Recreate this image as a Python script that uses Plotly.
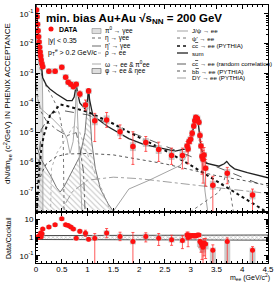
import plotly.graph_objects as go
from plotly.subplots import make_subplots

# ---------------- data ----------------
mass = [0.01, 0.02, 0.03, 0.04, 0.05, 0.06, 0.07, 0.08, 0.09, 0.10, 0.115, 0.13,
        0.25, 0.37, 0.50, 0.575, 0.625, 0.675, 0.725, 0.78, 0.85, 0.96, 1.02,
        1.14, 1.37, 1.63, 1.88, 2.13, 2.38, 2.63, 2.84,
        2.93, 2.95, 2.97, 3.00, 3.03, 3.06, 3.08, 3.10, 3.13, 3.16, 3.18, 3.20,
        3.22, 3.24, 3.26, 3.29, 3.43, 3.71, 4.20]
dndm_log10 = [-0.87, -1.10, -1.35, -1.57, -1.77, -1.95, -2.12, -2.28, -2.42, -2.55, -2.68, -2.78,
              -2.93, -2.93, -2.80, -3.13, -3.30, -3.37, -3.45, -3.37, -3.70, -4.07, -3.60,
              -4.60, -4.57, -4.97, -5.47, -5.33, -5.57, -5.77, -5.77,
              -5.45, -5.55, -5.30, -5.22, -5.02, -4.78, -4.60, -4.48, -4.52, -4.65, -5.10, -5.45,
              -5.80, -5.90, -5.75, -6.20, -6.77, -6.37, -7.10]
stat_up_dec = [0.02] * 12 + [0.05, 0.05, 0.04, 0.05, 0.05, 0.05, 0.06, 0.05, 0.1, 0.17, 0.08,
                             0.25, 0.25, 0.23, 0.5, 0.2, 0.25, 0.25, 0.25,
                             0.15, 0.3, 0.12, 0.12, 0.1, 0.08, 0.08, 0.06, 0.06, 0.08, 0.12, 0.15,
                             0.25, 0.3, 0.25, 0.3, 0.3, 0.2, 0.2]
stat_dn_dec = [0.02] * 12 + [0.05, 0.05, 0.04, 0.05, 0.05, 0.05, 0.06, 0.05, 0.1, 0.17, 0.08,
                             0.7, 0.25, 0.23, 0.6, 0.3, 0.4, 0.3, 0.45,
                             0.2, 0.5, 0.15, 0.15, 0.1, 0.08, 0.08, 0.06, 0.06, 0.08, 0.15, 0.3,
                             0.6, 0.8, 0.5, 0.6, 1.0, 0.35, 0.6]
syst_dec = [0.08] * 12 + [0.1] * 11 + [0.15] * 8 + [0.1] * 16 + [0.15, 0.15, 0.15]

ratio = [1.0, 1.0, 1.05, 1.1, 1.0, 1.15, 1.3, 1.2, 1.8, 1.1, 1.6, 2.9,
         3.8, 5.0, 10.5, 5.0, 4.5, 3.8, 2.9, 0.93, 2.2, 1.7, 0.8,
         0.93, 1.75, 1.15, 0.6, 1.15, 0.93, 0.75, 0.7,
         1.4, 1.0, 1.3, 1.2, 1.3, 1.2, 1.3, 1.2, 1.4, 1.4, 0.6, 0.5,
         0.4, 0.3, 0.5, 0.45, 0.2, 0.6, 0.2]
ratio_dn_dec = [0.02] * 12 + [0.05, 0.05, 0.04, 0.05, 0.05, 0.05, 0.06, 0.05, 0.1, 0.17, 0.08,
                              1.6, 0.25, 0.23, 1.6, 0.3, 0.4, 0.3, 0.45,
                              0.2, 0.5, 0.15, 0.15, 0.1, 0.08, 0.08, 0.06, 0.06, 0.08, 0.3, 0.5,
                              0.8, 1.0, 0.7, 0.8, 1.5, 1.5, 1.5]
ratio_syst_dn_dec = [0.08] * 12 + [0.1] * 11 + [0.15] * 8 + [0.1] * 10 + [0.3] * 6 + [1.5, 1.5, 1.5]

# cocktail components: (mass, log10 dN/dm)
pi0_m = [0.002, 0.01, 0.02, 0.03, 0.05, 0.07, 0.09, 0.11, 0.125, 0.132, 0.135]
pi0_l = [-0.75, -0.95, -1.2, -1.4, -1.75, -2.05, -2.4, -2.85, -3.4, -4.2, -7.9]
eta_m = [0.002, 0.05, 0.1, 0.15, 0.2, 0.3, 0.4, 0.45, 0.5, 0.53, 0.545, 0.547]
eta_l = [-1.8, -2.6, -3.0, -3.25, -3.45, -3.75, -4.1, -4.35, -4.8, -5.4, -6.8, -7.9]
etap_m = [0.002, 0.05, 0.1, 0.2, 0.4, 0.6, 0.78, 0.85, 0.92, 0.958]
etap_l = [-3.3, -4.0, -4.3, -4.6, -4.9, -5.1, -5.0, -5.5, -6.3, -7.9]
rho_m = [0.28, 0.3, 0.4, 0.5, 0.6, 0.7, 0.77, 0.85, 0.95, 1.1, 1.3, 1.5]
rho_l = [-7.9, -6.2, -5.7, -5.4, -5.1, -4.85, -4.75, -5.0, -5.5, -6.2, -7.0, -7.9]
omega_m = [0.002, 0.1, 0.3, 0.5, 0.6, 0.64, 0.66, 0.72, 0.76, 0.775, 0.782, 0.79, 0.81, 0.85, 0.9]
omega_l = [-3.7, -4.2, -4.5, -4.85, -5.2, -5.6, -5.7, -5.3, -4.4, -3.7, -3.45, -3.8, -4.8, -6.2, -7.9]
phi_m = [0.002, 0.1, 0.2, 0.3, 0.4, 0.47, 0.55, 0.7, 0.85, 0.95, 1.0, 1.019, 1.04, 1.08, 1.15, 1.25, 1.4, 1.6]
phi_l = [-5.4, -5.9, -6.2, -6.5, -6.85, -7.0, -6.8, -6.3, -5.8, -5.0, -4.0, -3.6, -4.2, -5.3, -6.2, -6.9, -7.4, -7.9]
jpsi_m = [1.4, 1.8, 2.2, 2.5, 2.8, 2.95, 3.02, 3.07, 3.1, 3.13, 3.17, 3.22, 3.28, 3.35]
jpsi_l = [-7.9, -6.9, -6.6, -6.35, -6.1, -5.7, -5.0, -4.6, -4.5, -4.55, -5.0, -6.0, -7.0, -7.9]
psip_m = [2.8, 3.3, 3.55, 3.65, 3.69, 3.72, 3.78, 3.85]
psip_l = [-7.9, -7.3, -7.0, -6.6, -6.3, -6.45, -7.2, -7.9]
ccbar_m = [0.0, 0.02, 0.05, 0.1, 0.15, 0.27, 0.47, 0.6, 1.0, 1.5, 1.82, 2.5, 3.1, 3.95, 4.3, 4.5]
ccbar_l = [-7.9, -7.5, -6.5, -5.6, -5.1, -4.43, -4.05, -4.1, -4.3, -4.7, -5.0, -5.6, -6.2, -7.1, -7.5, -7.7]
ccrand_m = [0.05, 0.1, 0.3, 0.5, 1.0, 1.5, 2.0, 2.5, 3.0, 3.5, 4.0, 4.5]
ccrand_l = [-6.2, -4.9, -4.35, -4.25, -4.4, -4.75, -5.1, -5.45, -5.8, -6.15, -6.5, -6.85]
bbbar_m = [0.02, 0.05, 0.1, 0.2, 0.4, 0.6, 1.0, 1.5, 2.0, 2.5, 3.0, 3.5, 4.0, 4.5]
bbbar_l = [-7.9, -6.8, -6.4, -6.05, -5.8, -5.72, -5.7, -5.75, -5.9, -6.05, -6.25, -6.45, -6.6, -6.78]
dy_m = [0.4, 0.7, 1.0, 1.5, 2.0, 2.5, 3.0, 3.5, 4.0, 4.5]
dy_l = [-7.9, -7.0, -6.6, -6.5, -6.55, -6.65, -6.75, -6.85, -6.95, -7.05]
sum_m = [0.002, 0.02, 0.05, 0.08, 0.11, 0.13, 0.2, 0.27, 0.4, 0.5, 0.6, 0.7, 0.74, 0.77, 0.782,
         0.8, 0.85, 0.95, 1.0, 1.019, 1.04, 1.1, 1.2, 1.4, 1.6, 1.8, 2.1, 2.4, 2.7, 2.9, 3.0,
         3.06, 3.1, 3.14, 3.2, 3.3, 3.55, 3.65, 3.7, 3.76, 3.85, 4.1, 4.5]
sum_l = [-0.7, -1.12, -1.8, -2.3, -2.8, -3.15, -3.4, -3.53, -3.7, -3.82, -3.92, -3.92, -3.8, -3.5, -3.34,
         -3.6, -4.0, -4.2, -3.9, -3.5, -3.9, -4.4, -4.55, -4.8, -5.0, -5.2, -5.4, -5.52, -5.62, -5.55, -5.3,
         -4.8, -4.5, -4.55, -5.5, -6.03, -6.13, -6.05, -5.97, -6.1, -6.22, -6.35, -6.52]

band_m = [0.0, 1.05, 1.05, 4.5]
band_lo = [0.78, 0.78, 0.72, 0.72]
band_hi = [1.28, 1.28, 1.38, 1.38]

tick_vals = [1e-7, 1e-6, 1e-5, 1e-4, 1e-3, 1e-2, 1e-1]
tick_text = ["10<sup>-7</sup>", "10<sup>-6</sup>", "10<sup>-5</sup>", "10<sup>-4</sup>",
             "10<sup>-3</sup>", "10<sup>-2</sup>", "10<sup>-1</sup>"]
rtick_vals = [0.1, 1, 10]
rtick_text = ["10<sup>-1</sup>", "1", "10"]


def lin(logs):
    return [10 ** v for v in logs]


FONT = "Liberation Sans, Arial, sans-serif"
W, H = 278, 282
L, R, T, B = 36, 10, 5, 19

fig = make_subplots(rows=2, cols=1, shared_xaxes=True, vertical_spacing=0,
                    row_heights=[0.802, 0.198])

FLOOR = 1e-9
fig.add_trace(go.Scatter(x=pi0_m + [pi0_m[-1], pi0_m[0]], y=lin(pi0_l) + [FLOOR, FLOOR],
                         fill="toself", mode="lines", line=dict(color="#777", width=0.6),
                         fillcolor="rgba(0,0,0,0)",
                         fillpattern=dict(shape="|", fgcolor="#888", bgcolor="rgba(0,0,0,0)",
                                          size=2, solidity=0.4),
                         hoverinfo="skip"), row=1, col=1)
fig.add_trace(go.Scatter(x=phi_m + [phi_m[-1], phi_m[0]], y=lin(phi_l) + [FLOOR, FLOOR],
                         fill="toself", mode="lines", line=dict(color="#555", width=0.8),
                         fillcolor="rgba(0,0,0,0)",
                         fillpattern=dict(shape="\\", fgcolor="#888", bgcolor="rgba(0,0,0,0)",
                                          size=4, solidity=0.25),
                         hoverinfo="skip"), row=1, col=1)


def curve(mx, ly, color, width, dash):
    fig.add_trace(go.Scatter(x=mx, y=lin(ly), mode="lines",
                             line=dict(color=color, width=width, dash=dash),
                             hoverinfo="skip"), row=1, col=1)


curve(eta_m, eta_l, "#666", 0.9, "dot")
curve(etap_m, etap_l, "#444", 0.8, "dashdot")
curve(rho_m, rho_l, "#aaa", 0.9, "dot")
curve(omega_m, omega_l, "#aaa", 1.0, "solid")
curve(jpsi_m, jpsi_l, "#999", 0.9, "solid")
curve(psip_m, psip_l, "#666", 0.9, "dot")
curve(dy_m, dy_l, "#888", 0.8, "dashdot")
curve(bbbar_m, bbbar_l, "#444", 0.9, "dot")
curve(ccrand_m, ccrand_l, "#333", 0.8, "dash")
curve(ccbar_m, ccbar_l, "#111", 2.0, "dot")
curve(sum_m, sum_l, "#222", 1.3, "solid")

dndm = lin(dndm_log10)
syst_hi = [v * (10 ** s - 1) for v, s in zip(dndm, syst_dec)]
syst_lo = [v * (1 - 10 ** -s) for v, s in zip(dndm, syst_dec)]
fig.add_trace(go.Scatter(x=mass, y=dndm, mode="markers", marker=dict(size=0.1, color="rgba(0,0,0,0)"),
                         error_y=dict(type="data", symmetric=False, array=syst_hi, arrayminus=syst_lo,
                                      color="rgba(195,195,195,0.85)", thickness=6, width=0),
                         hoverinfo="skip"), row=1, col=1)
st_hi = [v * (10 ** s - 1) for v, s in zip(dndm, stat_up_dec)]
st_lo = [v * (1 - 10 ** -s) for v, s in zip(dndm, stat_dn_dec)]
fig.add_trace(go.Scatter(x=mass, y=dndm, mode="markers", marker=dict(size=5.5, color="#ff1010"),
                         error_y=dict(type="data", symmetric=False, array=st_hi, arrayminus=st_lo,
                                      color="#ff3030", thickness=0.8, width=1.5),
                         hoverinfo="skip"), row=1, col=1)

fig.add_trace(go.Scatter(x=band_m + band_m[::-1], y=band_hi + band_lo[::-1], fill="toself",
                         mode="lines", line=dict(color="#222", width=0.8), fillcolor="rgba(0,0,0,0)",
                         fillpattern=dict(shape="x", fgcolor="#555", bgcolor="rgba(0,0,0,0)",
                                          size=3, solidity=0.3),
                         hoverinfo="skip"), row=2, col=1)
r_syst_hi = [v * (10 ** s - 1) for v, s in zip(ratio, syst_dec)]
r_syst_lo = [v * (1 - 10 ** -s) for v, s in zip(ratio, ratio_syst_dn_dec)]
fig.add_trace(go.Scatter(x=mass, y=ratio, mode="markers", marker=dict(size=0.1, color="rgba(0,0,0,0)"),
                         error_y=dict(type="data", symmetric=False, array=r_syst_hi, arrayminus=r_syst_lo,
                                      color="rgba(195,195,195,0.85)", thickness=6, width=0),
                         hoverinfo="skip"), row=2, col=1)
r_hi = [v * (10 ** s - 1) for v, s in zip(ratio, stat_up_dec)]
r_lo = [v * (1 - 10 ** -s) for v, s in zip(ratio, ratio_dn_dec)]
fig.add_trace(go.Scatter(x=mass, y=ratio, mode="markers", marker=dict(size=5, color="#ff1010"),
                         error_y=dict(type="data", symmetric=False, array=r_hi, arrayminus=r_lo,
                                      color="#ff3030", thickness=0.8, width=1.5),
                         hoverinfo="skip"), row=2, col=1)

axis_common = dict(showline=True, linecolor="black", linewidth=1, mirror="ticks", ticks="inside",
                   tickcolor="black", showgrid=False, zeroline=False, automargin=False,
                   tickfont=dict(family=FONT, size=8, color="black"))
fig.update_xaxes(range=[0, 4.5], dtick=0.5, ticklen=4,
                 minor=dict(ticks="inside", dtick=0.1, ticklen=2, tickcolor="black"), **axis_common)
fig.update_xaxes(showticklabels=False, row=1, col=1)
fig.update_xaxes(tickvals=[0, 0.5, 1, 1.5, 2, 2.5, 3, 3.5, 4, 4.5], ticklabelstandoff=-2,
                 ticktext=["0", "0.5", "1", "1.5", "2", "2.5", "3", "3.5", "4", "4.5"], row=2, col=1)
fig.update_yaxes(type="log", range=[-7.67, -0.7], tickvals=tick_vals, ticktext=tick_text, ticklen=4,
                 minor=dict(ticks="inside", ticklen=2, tickcolor="black", dtick="D1"),
                 row=1, col=1, **axis_common)
fig.update_yaxes(type="log", range=[-1.39, 1.4], tickvals=rtick_vals, ticktext=rtick_text, ticklen=4,
                 minor=dict(ticks="inside", ticklen=2, tickcolor="black", dtick="D1"),
                 row=2, col=1, **axis_common)


def px(xp, yp):
    return (xp - L) / (W - L - R), (H - B - yp) / (H - T - B)


annos = []
shapes = []


def text(xp, yp, s, size=6, bold=False, xanchor="left", angle=0):
    x, y = px(xp, yp)
    annos.append(dict(x=x, y=y, xref="paper", yref="paper", text=("<b>%s</b>" % s) if bold else s,
                      showarrow=False, xanchor=xanchor, yanchor="middle", textangle=angle,
                      font=dict(family=FONT, size=size, color="black")))


def sample(x0, x1, yp, color, width, dash):
    a, b = px(x0, yp)
    c, _ = px(x1, yp)
    shapes.append(dict(type="line", xref="paper", yref="paper", x0=a, x1=c, y0=b, y1=b,
                       line=dict(color=color, width=width, dash=dash)))


def hatch_box(x0, x1, yp, color):
    a, b = px(x0, yp - 2.5)
    c, d = px(x1, yp + 2.5)
    shapes.append(dict(type="rect", xref="paper", yref="paper", x0=a, x1=c, y0=d, y1=b,
                       line=dict(color=color, width=0.6), fillcolor="rgba(200,200,200,0.6)"))


text(44, 19, "min. bias Au+Au &#8730;s<sub>NN</sub> = 200 GeV", size=11.5, bold=True)
text(57, 29, "DATA", size=7, bold=True)
text(46, 41, "|y| &lt; 0.35", size=7)
text(46, 52, "p<sub>T</sub><sup>e</sup> &gt; 0.2 GeV/c", size=7)
a, b = px(51, 29)
shapes.append(dict(type="circle", xref="paper", yref="paper", x0=a - 0.011, x1=a + 0.011,
                   y0=b - 0.0097, y1=b + 0.0097, fillcolor="#ff1010", line=dict(width=0)))

rowsL = [31, 38, 46, 53, 64, 71]
labL = ["&#960;<sup>0</sup> &#8594; &#947;ee", "&#951; &#8594; &#947;ee", "&#951;' &#8594; &#947;ee",
        "&#961; &#8594; ee", "&#969; &#8594; ee &amp; &#960;<sup>0</sup>ee", "&#966; &#8594; ee &amp; &#951;ee"]
hatch_box(92, 101, rowsL[0], "#888")
sample(92, 101, rowsL[1], "#555", 0.9, "dot")
sample(92, 101, rowsL[2], "#444", 0.8, "dashdot")
sample(92, 101, rowsL[3], "#aaa", 0.9, "dot")
sample(92, 101, rowsL[4], "#aaa", 1.0, "solid")
hatch_box(92, 101, rowsL[5], "#555")
for yv, s in zip(rowsL, labL):
    text(103, yv, s, size=6.5)

rowsR = [31, 38, 46, 53, 64, 71, 78]
labR = ["J/&#968; &#8594; ee", "&#968;' &#8594; ee", "c<span style='text-decoration:overline'>c</span> &#8594; ee (PYTHIA)",
        "sum", "c<span style='text-decoration:overline'>c</span> &#8594; ee (random correlation)",
        "b<span style='text-decoration:overline'>b</span> &#8594; ee (PYTHIA)", "DY &#8594; ee (PYTHIA)"]
sample(177, 188, rowsR[0], "#999", 0.9, "solid")
sample(177, 188, rowsR[1], "#666", 0.9, "dot")
sample(177, 188, rowsR[2], "#111", 1.5, "dot")
sample(177, 188, rowsR[3], "#222", 1.3, "solid")
sample(177, 188, rowsR[4], "#333", 0.8, "dash")
sample(177, 188, rowsR[5], "#444", 0.9, "dot")
sample(177, 188, rowsR[6], "#888", 0.8, "dashdot")
for yv, s in zip(rowsR, labR):
    text(190, yv, s, size=6.2)

text(7, 104, "dN/dm<sub>ee</sub> (c<sup>2</sup>/GeV) IN PHENIX ACCEPTANCE", size=8, xanchor="center", angle=-90)
text(8, 238, "Data/Cocktail", size=7, xanchor="center", angle=-90)
text(272, 277.5, "m<sub>ee</sub> (GeV/c<sup>2</sup>)", size=7, xanchor="right")

fig.update_layout(width=W, height=H, margin=dict(l=L, r=R, t=T, b=B), showlegend=False,
                  paper_bgcolor="white", plot_bgcolor="white", annotations=annos, shapes=shapes,
                  font=dict(family=FONT))
fig.write_html("out.html", config=dict(displayModeBar=False),
               post_script="document.body.style.margin='0px';document.body.style.overflow='hidden';")
